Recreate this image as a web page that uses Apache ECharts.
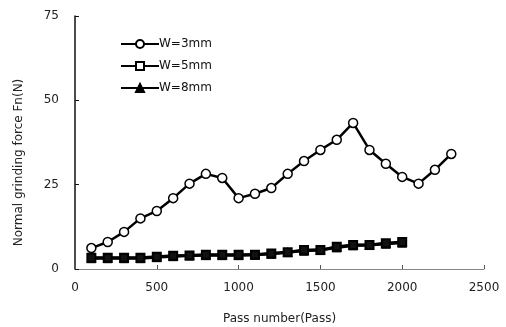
<!DOCTYPE html>
<html>
<head>
<meta charset="utf-8">
<script src="https://cdn.jsdelivr.net/npm/echarts@6/dist/echarts.min.js"></script>
<style>
  html, body { margin: 0; padding: 0; background: #fff; }
  #chart { width: 506px; height: 327px; }
</style>
</head>
<body>
<div id="chart"></div>
<script>
// pass numbers (x) and normal force (y) per wheel width
var passW3 = [100, 200, 300, 400, 500, 600, 700, 800, 900, 1000, 1100, 1200,
    1300, 1400, 1500, 1600, 1700, 1800, 1900, 2000, 2100, 2200, 2300];
var forceW3 = [6.2, 8.0, 11.0, 15.0, 17.2, 21.0, 25.3, 28.2, 27.0, 21.0, 22.3, 24.0,
    28.2, 32.0, 35.3, 38.3, 43.3, 35.3, 31.2, 27.3, 25.3, 29.4, 34.1];

var passW5 = [100, 200, 300, 400, 500, 600, 700, 800, 900, 1000, 1100, 1200,
    1300, 1400, 1500, 1600, 1700, 1800, 1900, 2000];
var forceW5 = [3.3, 3.3, 3.3, 3.3, 3.6, 3.9, 4.0, 4.2, 4.2, 4.2, 4.2, 4.6,
    5.0, 5.6, 5.6, 6.6, 7.1, 7.1, 7.6, 8.0];

var passW8 = passW5;
var forceW8 = [3.2, 3.2, 3.2, 3.2, 3.5, 3.8, 4.0, 4.1, 4.1, 4.1, 4.2, 4.5,
    5.0, 5.4, 5.6, 6.4, 7.0, 7.1, 7.5, 7.8];

var xTicks = [0, 500, 1000, 1500, 2000, 2500];
var yTicks = [0, 25, 50, 75];

function pairs(xs, ys) {
    let out = [];
    for (let i = 0; i < xs.length; i++) {
        out.push([xs[i], ys[i]]);
    }
    return out;
}

var chartDom = document.getElementById('chart');
var myChart = echarts.init(chartDom);
var font = 'DejaVu Sans';

var option = {
    backgroundColor: '#fff',
    animation: false,
    textStyle: { fontFamily: font },
    grid: { left: 75, right: 22, top: 16, bottom: 58, containLabel: false, outerBoundsMode: 'none' },
    legend: {
        orient: 'vertical',
        left: 115,
        top: 33,
        itemWidth: 38,
        itemHeight: 10,
        itemGap: 10,
        textStyle: { fontFamily: font, fontSize: 12, color: '#111', padding: [0, 0, 0, -5] },
        data: [
            { name: 'W=3mm' },
            { name: 'W=5mm', itemStyle: { color: '#fff' } },
            { name: 'W=8mm' }
        ]
    },
    xAxis: {
        type: 'value',
        min: xTicks[0],
        max: xTicks[xTicks.length - 1],
        interval: 500,
        name: 'Pass number(Pass)',
        nameLocation: 'middle',
        nameGap: 44,
        nameTextStyle: { fontFamily: font, fontSize: 12, color: '#222' },
        axisLine: { lineStyle: { color: '#888', width: 1 } },
        axisTick: { inside: true, length: 4, lineStyle: { color: '#555' } },
        axisLabel: {
            fontFamily: font, fontSize: 12, color: '#222', margin: 13,
            formatter: function (v) { return String(v); }
        },
        splitLine: { show: false }
    },
    yAxis: {
        type: 'value',
        min: yTicks[0],
        max: yTicks[yTicks.length - 1],
        interval: 25,
        name: 'Normal grinding force Fn(N)',
        nameLocation: 'middle',
        nameGap: 50,
        nameTextStyle: { fontFamily: font, fontSize: 12, color: '#222', padding: [0, 40, 0, 0] },
        axisLine: { show: true, lineStyle: { color: '#111', width: 1.5 } },
        axisTick: { show: true, inside: true, length: 4, lineStyle: { color: '#111' } },
        axisLabel: { fontFamily: font, fontSize: 12, color: '#222', margin: 16 },
        splitLine: { show: false }
    },
    series: [
        {
            name: 'W=8mm',
            type: 'line',
            data: pairs(passW8, forceW8),
            symbol: 'triangle',
            symbolSize: 9,
            lineStyle: { color: '#000', width: 3 },
            itemStyle: { color: '#000', borderColor: '#000', borderWidth: 1 },
            z: 2
        },
        {
            name: 'W=5mm',
            type: 'line',
            data: pairs(passW5, forceW5),
            symbol: 'rect',
            symbolSize: 8,
            lineStyle: { color: '#000', width: 3 },
            itemStyle: { color: '#111', borderColor: '#000', borderWidth: 2 },
            z: 3
        },
        {
            name: 'W=3mm',
            type: 'line',
            data: pairs(passW3, forceW3),
            symbol: 'circle',
            symbolSize: 9,
            lineStyle: { color: '#000', width: 2.5 },
            itemStyle: { color: '#fff', borderColor: '#000', borderWidth: 1.5 },
            z: 4
        }
    ]
};

if (option && typeof option === 'object') {
    myChart.setOption(option);
}
</script>
</body>
</html>
